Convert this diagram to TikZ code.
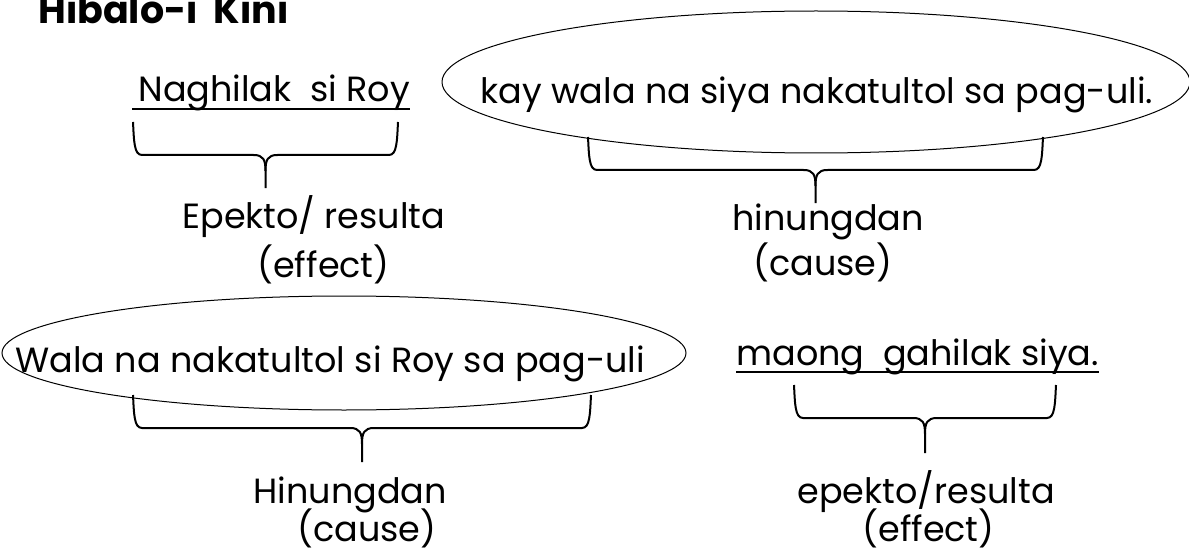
\documentclass[tikz,border=0pt]{standalone}
\usepackage{fontspec}
\setmainfont{Poppins}

\newcommand{\bracedown}[5]{%
	\pgfmathsetmacro{\bmid}{(#1+#2)/2}
	\draw[brc] (#1,#3) .. controls (#1+1,#4-14) and (#1+1,#4) .. (#1+9,#4)
		-- (\bmid-12,#4) .. controls (\bmid-2,#4) and (\bmid,#4+5) .. (\bmid,#4+16) -- (\bmid,#5);
	\draw[brc] (\bmid,#4+16) .. controls (\bmid,#4+5) and (\bmid+2,#4) .. (\bmid+12,#4)
		-- (#2-9,#4) .. controls (#2-1,#4) and (#2-1,#4-14) .. (#2,#3);
}

\begin{document}
\begin{tikzpicture}[
	x=0.5pt, y=-0.5pt,
	txt/.style = {inner sep=0pt, anchor=base west, font=\fontsize{17.5}{21}\selectfont},
	ttl/.style = {txt, font=\fontsize{19}{23}\selectfont\bfseries},
	oval/.style = {draw, line width=0.5pt},
	uline/.style = {line width=1pt},
	brc/.style = {line width=1pt, line join=round}
	]
	\useasboundingbox (0,0) rectangle (1189,556);
	\clip (0,0) rectangle (1189,556);

	\node[ttl] (title) at (38,24) {Hibalo-i\ \ Kini};

	% first sentence
	\node[txt] (effect1) at (138,102) {Naghilak\ \ si Roy};
	\draw[uline] ([xshift=-3pt,yshift=-3.5pt]effect1.base west) -- ([yshift=-3.5pt]effect1.base east);
	\draw[oval] (816,82) ellipse [x radius=374, y radius=71];
	\node[txt] (cause1) at (480,104) {kay wala na siya nakatultol sa pag-uli.};
	\bracedown{133}{398}{122}{155}{188}
	\bracedown{588}{1043}{137}{170}{203}
	\node[txt] (lbleff1) at (182,228) {Epekto/ resulta};
	\node[txt] (lbleff1b) at (257,277) {(effect)};
	\node[txt] (lblcau1) at (732,230) {hinungdan};
	\node[txt] (lblcau1b) at (753,275) {(cause)};

	% second sentence
	\draw[oval] (344,353) ellipse [x radius=342, y radius=57];
	\node[txt] (cause2) at (15,372) {Wala na nakatultol si Roy sa pag-uli};
	\node[txt] (effect2) at (736,365) {maong\ \ gahilak siya.};
	\draw[uline] ([yshift=-3.5pt]effect2.base west) -- ([yshift=-3.5pt]effect2.base east);
	\bracedown{133}{591}{395}{428}{462}
	\bracedown{794}{1056}{385}{418}{453}
	\node[txt] (lblcau2) at (253,503) {Hinungdan};
	\node[txt] (lblcau2b) at (297,541) {(cause)};
	\node[txt] (lbleff2) at (797,503) {epekto/resulta};
	\node[txt] (lbleff2b) at (862,541) {(effect)};
\end{tikzpicture}
\end{document}
